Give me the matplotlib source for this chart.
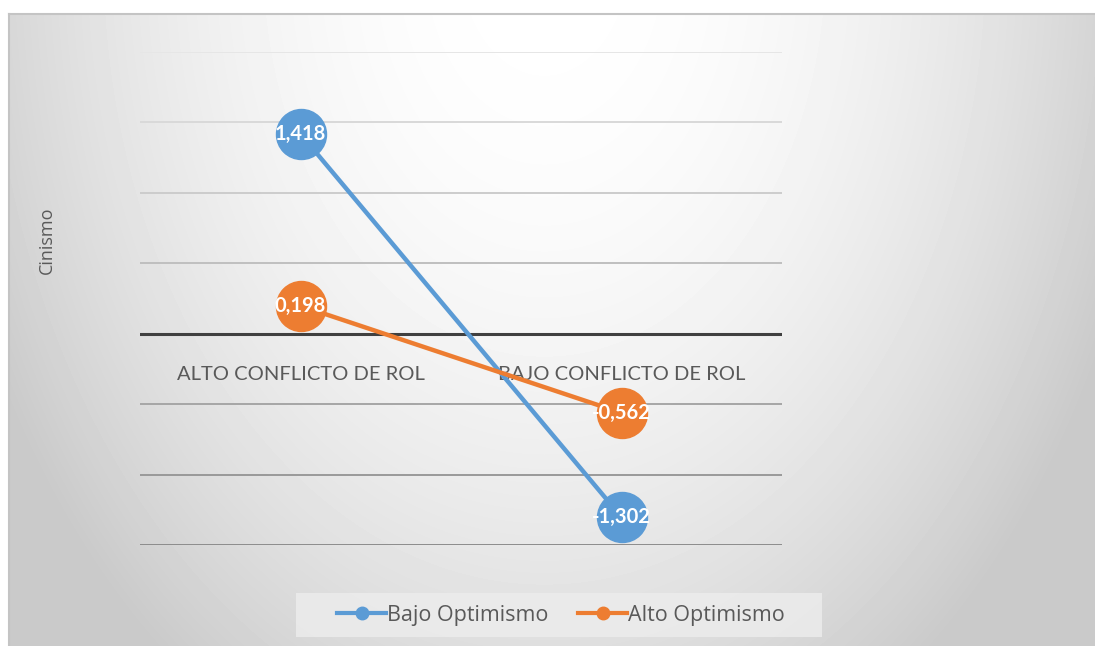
import matplotlib
matplotlib.use("Agg")
import matplotlib.pyplot as plt
import matplotlib.patches as patches
import numpy as np

categories = ["ALTO CONFLICTO DE ROL", "BAJO CONFLICTO DE ROL"]
series_names = ["Bajo Optimismo", "Alto Optimismo"]
bajo_optimismo = [1.418, -1.302]
alto_optimismo = [0.198, -0.562]
label_text = [["1,418", "-1,302"], ["0,198", "-0,562"]]

BLUE = "#5B9BD5"
ORANGE = "#ED7D31"
TEXT = "#595959"

plt.rcParams["font.family"] = ["Lato", "DejaVu Sans"]

fig = plt.figure(figsize=(10.95, 6.46), dpi=100)
fig.patch.set_facecolor("white")

# chart area with a soft radial shading, white near the top centre
W, H = 1095, 646
bg_ax = fig.add_axes([9 / W, 0, 1 - 9 / W, (H - 14) / H])
yy, xx = np.mgrid[0:632, 0:1086]
d2 = ((xx - 535) / 560.0) ** 2 + ((yy + 60) / 800.0) ** 2
shade = np.clip(1.0 - 0.17 * d2, 0.79, 1.0)
bg_ax.imshow(shade, cmap="gray", vmin=0, vmax=1, aspect="auto",
             extent=[0, 1, 0, 1], origin="upper")
bg_ax.set_xlim(0, 1)
bg_ax.set_ylim(0, 1)
bg_ax.axis("off")
bg_ax.plot([0, 1], [1, 1], color="#c4c4c4", lw=1.5, clip_on=False)
bg_ax.plot([0, 0], [0, 1], color="#c4c4c4", lw=1.5, clip_on=False)

ax = fig.add_axes([140 / W, (H - 545) / H, (782 - 140) / W, (545 - 52) / H])
ax.patch.set_alpha(0)
ax.set_xlim(0, 2)
ax.set_ylim(-1.5, 2.0)
for s in ax.spines.values():
    s.set_visible(False)
ax.set_xticks([])
ax.set_yticks([])

# gridlines pick up the shading: pale at the top, darker lower down
grid_vals = np.arange(-1.5, 2.01, 0.5)
for g in grid_vals:
    if abs(g) < 1e-9:
        continue
    level = np.interp(g, [-1.5, 2.0], [0.55, 0.90])
    ax.axhline(g, color=str(level), lw=1.4, zorder=0)
ax.axhline(0, color="#404040", lw=2.2, zorder=1)

xs = np.arange(len(categories)) + 0.5
for i, (vals, col) in enumerate([(bajo_optimismo, BLUE), (alto_optimismo, ORANGE)]):
    ax.plot(xs, vals, color=col, lw=3.2, marker="o", markersize=36,
            solid_capstyle="round", label=series_names[i], zorder=3)
    for x, v, t in zip(xs, vals, label_text[i]):
        ax.text(x, v, t, color="white", fontsize=14.5, fontweight="bold",
                ha="center", va="center", zorder=4)

for x, c in zip(xs, categories):
    ax.text(x, -0.29, c, color=TEXT, fontsize=14.5, ha="center", va="center",
            zorder=2)

fig.text(47 / W, 1 - 240 / H, "Cinismo", rotation=90, color=TEXT,
         fontsize=13, ha="center", va="center", family=["Open Sans", "DejaVu Sans"])

# legend box drawn separately so it can be wider than the entries
box = patches.Rectangle((296 / W, (H - 637) / H), 526 / W, 44 / H,
                        transform=fig.transFigure, facecolor="#ececec",
                        edgecolor="none", alpha=0.85, zorder=5)
fig.patches.append(box)

handles = [plt.Line2D([], [], color=c, lw=3, marker="o", markersize=9)
           for c in (BLUE, ORANGE)]
leg = fig.legend(handles, series_names, loc="center",
                 bbox_to_anchor=(561 / W, 1 - 615 / H), ncol=2,
                 frameon=False,
                 prop={"family": ["Open Sans", "DejaVu Sans"], "size": 15.5},
                 handlelength=2.3, handletextpad=0.05, columnspacing=1.35,
                 borderpad=0, borderaxespad=0, labelcolor=TEXT)
leg.set_zorder(6)

fig.savefig("out.png", dpi=100)
